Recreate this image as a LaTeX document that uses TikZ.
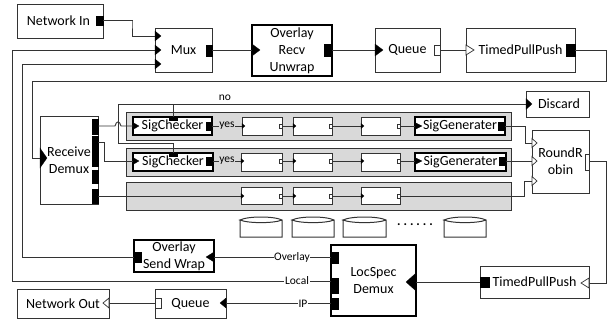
\documentclass[tikz,border=0pt]{standalone}
\usepackage{fontspec}
\setmainfont{Carlito}
\usetikzlibrary{calc}
\definecolor{ln}{gray}{0.2}
\definecolor{band}{gray}{0.85}
\tikzset{
  box/.style={draw=ln,line width=1pt,fill=white,inner sep=0pt,align=center,font=\fontsize{14}{17}\selectfont},
  thickbox/.style={box,draw=black,line width=1.8pt},
  bandbox/.style={draw=ln,line width=1pt,fill=band,inner sep=0pt},
  port/.style={fill=black,draw=black,line width=0.3pt,inner sep=0pt},
  hport/.style={fill=white,draw=ln,line width=0.7pt,inner sep=0pt},
  wire/.style={draw=ln,line width=0.9pt},
  lab/.style={inner sep=0.6pt,font=\fontsize{11.5}{13}\selectfont},
  solidtip/.style={fill=black,draw=black,line width=0.2pt},
  opentip/.style={fill=white,draw=ln,line width=0.7pt},
  cyl/.style={draw=ln,line width=1pt,fill=white}
}
\newcommand{\bx}[7]{%
  \pgfmathsetmacro{\bw}{#4-#2}\pgfmathsetmacro{\bh}{#5-#3}%
  \node[#6,minimum width=\bw pt,minimum height=\bh pt] (#1) at ({(#2+#4)/2},{(#3+#5)/2}) {#7};}
\newcommand{\tp}[6]{%
  \coordinate (#1) at (#2,#3);
  \path[#6] (#2,{#3-#5/2}) -- ({#2+#4},#3) -- (#2,{#3+#5/2}) -- cycle;}
\newcommand{\cy}[2]{% x1 x2
  \path[cyl] (#1,220) -- (#1,237) -- (#2,237) -- (#2,220) .. controls ({#2-8},216) and ({#1+8},216) .. (#1,220) .. controls ({#1+8},223.5) and ({#2-8},223.5) .. (#2,220);}
\begin{document}
\begin{tikzpicture}[x=1pt,y=-1pt]
\useasboundingbox (0,0) rectangle (613,324);
% bands
\bx{bandA}{126}{112}{511}{140}{bandbox}{}
\bx{bandB}{126}{148}{511}{176}{bandbox}{}
\bx{bandC}{126}{182}{511}{210}{bandbox}{}
% top row
\bx{netin}{17}{4}{103}{38}{box}{Network In\hspace*{3pt}}
\bx{netinP}{96}{16}{103}{25}{port}{}
\bx{mux}{155}{28}{212}{72}{box}{Mux}
\bx{muxP}{206}{45}{212}{56}{port}{}
\tp{muxA}{155}{36}{6}{10}{solidtip}
\tp{muxB}{155}{50}{6}{10}{solidtip}
\tp{muxC}{155}{64}{6}{10}{solidtip}
\bx{unwrap}{252}{25}{332}{76}{thickbox}{Overlay\\Recv\\Unwrap}
\tp{unwrapI}{252}{50}{8}{12}{solidtip}
\bx{unwrapP}{324}{44}{332}{56}{port}{}
\bx{q}{375}{28}{440}{72}{box}{Queue}
\tp{qI}{375}{50}{8}{12}{solidtip}
\bx{qP}{434}{45}{440}{55}{hport}{}
\bx{tpp}{466}{28}{575}{72}{box}{TimedPullPush}
\tp{tppI}{466}{50}{8}{10}{opentip}
\bx{tppP}{566}{44}{575}{56}{port}{}
\bx{discard}{526}{91}{589}{117}{box}{\hspace*{3pt}Discard}
\tp{discI}{526}{104}{6}{11}{solidtip}
% receive demux
\bx{rd}{40}{116}{98}{204}{box}{Receive\\Demux}
\tp{rdI}{40}{158}{7}{20}{solidtip}
\bx{rdA}{92}{119}{98}{134}{port}{}
\bx{rdB}{92}{136}{98}{152}{port}{}
\bx{rdC}{92}{153}{98}{166}{port}{}
\bx{rdD}{92}{170}{98}{183}{port}{}
\bx{rdE}{92}{189}{98}{203}{port}{}
% row 1
\bx{scA}{133}{117}{212}{135}{thickbox}{SigChecker}
\tp{scAI}{133}{126}{6}{7}{solidtip}
\bx{scAP}{206}{122}{212}{130}{port}{}
\bx{scAT}{169}{117}{177}{120}{port}{}
\bx{a1}{242}{117}{282}{135}{box}{}
\tp{a1I}{242}{126}{3}{5}{solidtip}
\bx{a1P}{279}{124}{282}{128}{hport}{}
\bx{a2}{293}{117}{332}{135}{box}{}
\tp{a2I}{293}{126}{3}{5}{solidtip}
\bx{a2P}{329}{124}{332}{128}{hport}{}
\bx{a3}{361}{117}{400}{135}{box}{}
\tp{a3I}{361}{126}{3}{5}{solidtip}
\bx{a3P}{397}{124}{400}{128}{hport}{}
\bx{sgA}{415}{117}{505}{135}{thickbox}{SigGenerater}
\tp{sgAI}{415}{126}{7}{7}{solidtip}
\bx{sgAP}{498}{122}{505}{130}{port}{}
% row 2
\bx{scB}{133}{153}{213}{171}{thickbox}{SigChecker}
\tp{scBI}{133}{161}{6}{7}{solidtip}
\bx{scBP}{206}{157}{213}{165}{port}{}
\bx{scBT}{169}{153}{177}{156}{port}{}
\bx{b1}{241}{153}{282}{171}{box}{}
\tp{b1I}{241}{161}{3}{5}{solidtip}
\bx{b1P}{279}{159}{282}{163}{hport}{}
\bx{b2}{293}{153}{332}{171}{box}{}
\tp{b2I}{293}{161}{3}{5}{solidtip}
\bx{b2P}{329}{159}{332}{163}{hport}{}
\bx{b3}{361}{153}{400}{171}{box}{}
\tp{b3I}{361}{161}{3}{5}{solidtip}
\bx{b3P}{397}{159}{400}{163}{hport}{}
\bx{sgB}{415}{153}{506}{171}{thickbox}{SigGenerater}
\tp{sgBI}{415}{161}{7}{7}{solidtip}
\bx{sgBP}{499}{157}{506}{165}{port}{}
% row 3
\bx{c1}{241}{187}{282}{204}{box}{}
\tp{c1I}{241}{196}{3}{5}{solidtip}
\bx{c1P}{279}{194}{282}{198}{hport}{}
\bx{c2}{293}{187}{332}{204}{box}{}
\tp{c2I}{293}{196}{3}{5}{solidtip}
\bx{c2P}{329}{194}{332}{198}{hport}{}
\bx{c3}{361}{187}{400}{204}{box}{}
\tp{c3I}{361}{196}{3}{5}{solidtip}
\bx{c3P}{397}{194}{400}{198}{hport}{}
% round robin
\bx{rr}{532}{130}{589}{193}{box}{RoundR\\obin}
\tp{rrA}{532}{143}{5}{9}{opentip}
\tp{rrB}{532}{161}{5}{9}{opentip}
\tp{rrC}{532}{181}{5}{9}{opentip}
\bx{rrP}{585}{154}{589}{170}{hport}{}
% cylinders
\cy{240}{282}
\cy{292}{334}
\cy{343}{386}
\cy{444}{486}
\node[font=\bfseries\fontsize{13}{14}\selectfont,inner sep=0pt] (dots) at (415,225) {.\kern3pt.\kern3pt.\kern3pt.\kern3pt.\kern3pt.};
% lower
\bx{osw}{134}{240}{214}{272}{thickbox}{Overlay\\Send Wrap}
\bx{oswP}{134}{252}{141}{262}{port}{}
\tp{oswI}{214}{257}{-8}{10}{solidtip}
\bx{ls}{331}{245}{416}{316}{thickbox}{LocSpec\\Demux}
\bx{lsA}{331}{252}{338}{263}{port}{}
\bx{lsB}{331}{278}{338}{293}{port}{}
\bx{lsC}{331}{298}{338}{309}{port}{}
\tp{lsI}{416}{282}{-10}{18}{solidtip}
\bx{tppB}{480}{266}{589}{298}{box}{TimedPullPush}
\bx{tppBP}{480}{277}{489}{287}{port}{}
\tp{tppBI}{589}{283}{-8}{10}{opentip}
\bx{netout}{17}{289}{109}{318}{box}{Network Out}
\tp{netoutI}{109}{303}{-6}{10}{opentip}
\bx{qB}{155}{289}{226}{318}{box}{Queue}
\bx{qBP}{155}{298}{161}{308}{hport}{}
\tp{qBI}{226}{303}{-6}{10}{solidtip}
% way points
\coordinate (w1) at (132,21);
\coordinate (hopa) at (115,126);
\coordinate (hopb) at (121,126);
\coordinate (nol) at (118,104);
\coordinate (nob) at (118,143);
\coordinate (noT) at (173,104);
\coordinate (fb1) at (606,81);
\coordinate (fb2) at (32,81);
\coordinate (x2) at (104,161);
\coordinate (loc) at (12,281);
\coordinate (ov) at (22,257);
\coordinate (rrv) at (606,161);
\coordinate (g1) at (525,126);
\coordinate (g3) at (524,196);
% connectors
\begin{scope}[wire]
\draw (netinP.east) -| (w1) |- (muxA);
\draw (lsB.west |- loc) -- (loc) |- (muxB);
\draw (oswP.west |- ov) -- (ov) |- (muxC);
\draw (muxP.east |- muxB) -- (unwrapI);
\draw (unwrapP.east) -- (qI);
\draw (qP.east) -- (tppI);
\draw (tppP.east) -| (fb1) -- (fb2) |- (rdI);
\draw (rdA.east |- hopa) -- (hopa) .. controls (116.5,120.5) and (119.5,120.5) .. (hopb) -- (scAI);
\draw (rdB.east |- 0,142) -| (x2) -- (scBI);
\draw (rdE.east |- c1I) -- (c1I);
\draw (nob) -- (nol) -- (discI);
\draw (scAT.north) -- (noT);
\draw (scBT.north) |- (nob);
\draw (a1P.east) -- (a2I);
\draw (a2P.east) -- (a3I);
\draw (a3P.east) -- (sgAI);
\draw (b1P.east) -- (b2I);
\draw (b2P.east) -- (b3I);
\draw (b3P.east) -- (sgBI);
\draw (c1P.east) -- (c2I);
\draw (c2P.east) -- (c3I);
\draw (sgAP.east) -| (g1) |- (rrA);
\draw (sgBP.east) -- (rrB);
\draw (c3P.east) -- (g3) |- (rrC);
\draw (rrP.east |- rrv) -- (rrv) |- (tppBI);
\draw (lsI) -- (tppBP.west);
\draw (oswI) -- (lsA.west |- oswI);
\draw (qBI) -- (lsC.west |- qBI);
\draw (qBP.west) -- (netoutI);
\draw (scAP.east) -- (a1I);
\draw (scBP.east) -- (b1I);
\end{scope}
% labels
\node[lab,fill=band] (y1) at (227,126) {yes};
\node[lab,fill=band] (y2) at (227,161) {yes};
\node[lab] (no) at (225,98) {no};
\node[lab,fill=white] (l1) at (292,257) {Overlay};
\node[lab,fill=white] (l2) at (297,281) {Local};
\node[lab,fill=white] (l3) at (303,304) {IP};
\end{tikzpicture}
\end{document}
